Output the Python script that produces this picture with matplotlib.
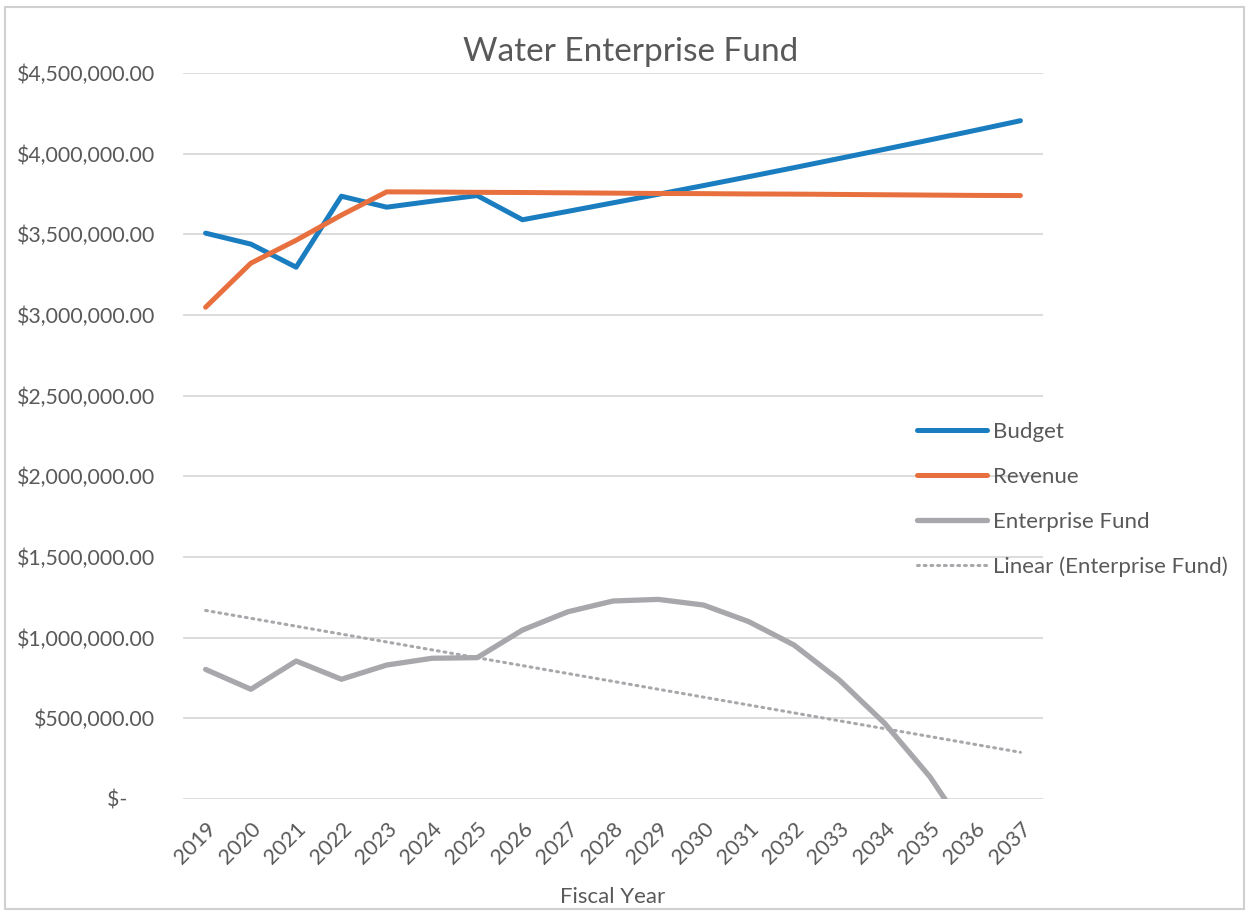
import numpy as np
from matplotlib import pyplot as plt
from matplotlib.patches import Rectangle

# Fiscal years and series values
years = list(range(2019, 2038))
budget = [3507000, 3439000, 3296000, 3736000, 3668000, 3705000, 3740000, 3590000,
          3642000, 3695000, 3748000, 3802000, 3857000, 3913000, 3970000, 4027000,
          4085000, 4144000, 4204000]
revenue = [3048000, 3321000, 3463000, 3619000, 3763000, 3762000, 3760000, 3759000,
           3757000, 3755000, 3753000, 3752000, 3750000, 3749000, 3747000, 3745000,
           3743000, 3741000, 3740000]
enterprise_fund = [803000, 680000, 855000, 742000, 830000, 872000, 876000, 1047000,
                   1160000, 1227000, 1237000, 1202000, 1099000, 954000, 737000, 469000,
                   138000, -280000, -800000]
y_ticks = [0, 500000, 1000000, 1500000, 2000000, 2500000, 3000000, 3500000, 4000000, 4500000]

def money(v):
    if v == 0:
        return "$-     "
    return "${:,.2f}".format(v)

plt.rcParams['font.family'] = ['Lato', 'DejaVu Sans']
text_col = '#595959'

fig = plt.figure(figsize=(12.49, 9.13), dpi=100)
ax = fig.add_axes([0.1465, 0.1249, 0.6886, 0.7952])

x = np.array(years)
ax.plot(x, budget, color='#1A7DC0', lw=3.6, solid_capstyle='round', label='Budget', zorder=3)
ax.plot(x, revenue, color='#E8703F', lw=3.6, solid_capstyle='round', label='Revenue', zorder=3)
ax.plot(x, enterprise_fund, color='#A8A8AC', lw=3.8, solid_capstyle='round', label='Enterprise Fund', zorder=3)

# linear trendline of the enterprise fund
coef = np.polyfit(x, enterprise_fund, 1)
ax.plot(x, np.polyval(coef, x), color='#A8A8AC', lw=2.2, linestyle=(0, (0.6, 1.6)),
        dash_capstyle='round', label='Linear (Enterprise Fund)', zorder=2)

ax.set_xlim(2018.5, 2037.5)
ax.set_ylim(0, 4500000)
ax.set_yticks(y_ticks)
ax.set_yticklabels([money(v) for v in y_ticks])
ax.set_xticks(years)
ax.set_xticklabels([str(y) for y in years], rotation=45, ha='right', rotation_mode='anchor')
ax.tick_params(axis='y', length=0, pad=20, labelsize=15.3, labelcolor=text_col)
ax.tick_params(axis='x', length=0, pad=14, labelsize=15.5, labelcolor=text_col)

ax.grid(True, axis='y', color='#D9D9D9', lw=1.3)
ax.set_axisbelow(True)
for s in ax.spines.values():
    s.set_visible(False)

ax.set_xlabel('Fiscal Year', fontsize=16, color=text_col, labelpad=14)
fig.text(0.505, 0.943, 'Water Enterprise Fund', ha='center', va='center', fontsize=24, color=text_col)

leg = fig.legend(loc='upper left', bbox_to_anchor=(0.718, 0.5597), frameon=False, fontsize=16,
                 handlelength=3.15, handletextpad=0.3, labelspacing=1.12, labelcolor=text_col)

fig.patches.append(Rectangle((0.004, 0.004), 0.992, 0.988, transform=fig.transFigure,
                             fill=False, edgecolor='#D0D0D0', lw=1.5))

plt.savefig('out.png', dpi=100)
plt.close()
